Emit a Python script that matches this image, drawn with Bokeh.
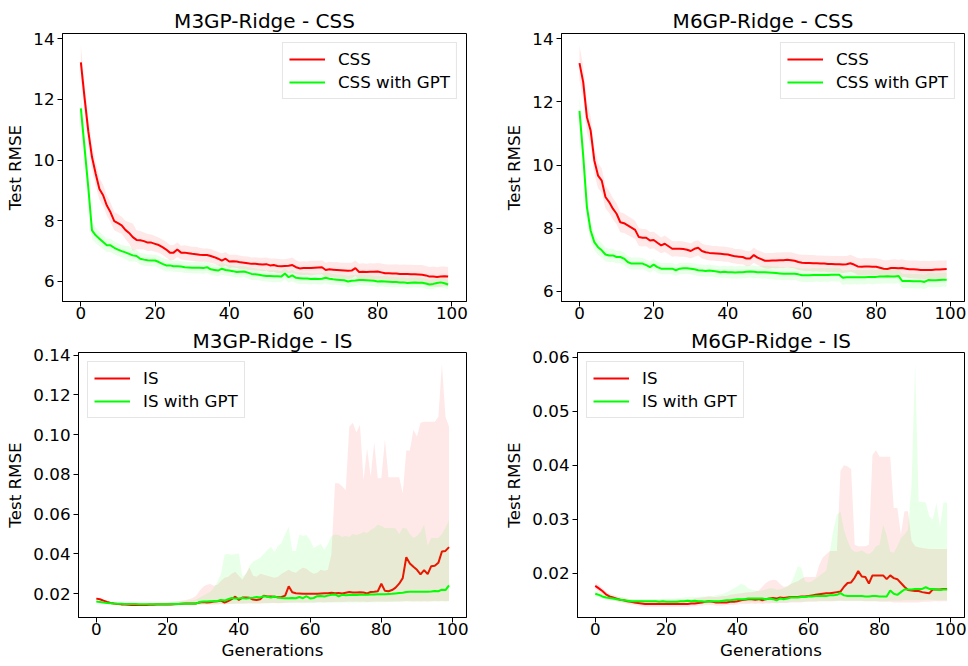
from bokeh.plotting import figure
from bokeh.layouts import column, row
from bokeh.models import Range1d, FixedTicker, PrintfTickFormatter, Legend, LegendItem
from bokeh.embed import file_html
from bokeh.resources import INLINE

generations = list(range(100))
x_ticks = [0, 20, 40, 60, 80, 100]

# ---------------- M3GP-Ridge - CSS ----------------
m3_css_mean = [13.22, 12.05, 10.95, 10.10, 9.55, 9.05, 8.84, 8.50, 8.28, 7.99,
               7.92, 7.85, 7.70, 7.60, 7.46, 7.37, 7.36, 7.33, 7.28, 7.28,
               7.24, 7.20, 7.13, 7.05, 6.95, 6.95, 7.05, 6.95, 6.95, 6.93,
               6.91, 6.90, 6.88, 6.87, 6.87, 6.84, 6.80, 6.75, 6.69, 6.75,
               6.66, 6.67, 6.66, 6.63, 6.62, 6.60, 6.58, 6.58, 6.57, 6.56,
               6.57, 6.53, 6.54, 6.51, 6.50, 6.51, 6.52, 6.54, 6.47, 6.43,
               6.44, 6.44, 6.44, 6.45, 6.46, 6.47, 6.38, 6.40, 6.39, 6.38,
               6.37, 6.36, 6.35, 6.36, 6.44, 6.31, 6.32, 6.31, 6.32, 6.32,
               6.33, 6.30, 6.27, 6.27, 6.26, 6.26, 6.25, 6.25, 6.25, 6.24,
               6.24, 6.23, 6.22, 6.20, 6.16, 6.16, 6.15, 6.16, 6.17, 6.16]
m3_css_std = [0.55, 0.50, 0.45, 0.42, 0.38, 0.36, 0.35, 0.33, 0.32, 0.30,
              0.30, 0.28, 0.30, 0.35, 0.45, 0.32, 0.30, 0.28, 0.28, 0.27,
              0.26, 0.25, 0.25, 0.26, 0.25, 0.24, 0.24, 0.23, 0.24, 0.24,
              0.23, 0.24, 0.23, 0.22, 0.22, 0.23, 0.22, 0.22, 0.23, 0.22,
              0.22, 0.21, 0.22, 0.22, 0.21, 0.22, 0.21, 0.22, 0.21, 0.22,
              0.22, 0.23, 0.22, 0.24, 0.23, 0.22, 0.24, 0.25, 0.23, 0.22,
              0.23, 0.22, 0.24, 0.23, 0.22, 0.23, 0.24, 0.25, 0.24, 0.26,
              0.25, 0.26, 0.27, 0.26, 0.25, 0.27, 0.28, 0.27, 0.28, 0.27,
              0.28, 0.29, 0.30, 0.29, 0.30, 0.31, 0.30, 0.31, 0.30, 0.31,
              0.30, 0.31, 0.32, 0.31, 0.32, 0.33, 0.32, 0.33, 0.32, 0.32]
m3_cssgpt_mean = [11.70, 10.40, 9.10, 7.68, 7.52, 7.41, 7.30, 7.19, 7.19, 7.11,
                  7.05, 7.00, 6.96, 6.91, 6.86, 6.84, 6.75, 6.72, 6.70, 6.69,
                  6.69, 6.64, 6.58, 6.53, 6.53, 6.50, 6.50, 6.49, 6.47, 6.46,
                  6.45, 6.45, 6.45, 6.44, 6.47, 6.40, 6.38, 6.36, 6.42, 6.38,
                  6.36, 6.34, 6.31, 6.32, 6.33, 6.29, 6.25, 6.24, 6.22, 6.20,
                  6.18, 6.18, 6.17, 6.17, 6.16, 6.26, 6.14, 6.20, 6.12, 6.11,
                  6.10, 6.10, 6.08, 6.09, 6.08, 6.09, 6.12, 6.09, 6.07, 6.06,
                  6.05, 6.04, 6.00, 6.02, 6.03, 6.05, 6.05, 6.04, 6.03, 6.02,
                  6.00, 6.01, 6.00, 5.99, 5.98, 5.98, 5.97, 5.97, 5.95, 5.96,
                  5.97, 5.96, 5.96, 5.93, 5.90, 5.92, 5.95, 5.97, 5.94, 5.90]
m3_cssgpt_std = [0.50, 0.45, 0.40, 0.28, 0.25, 0.24, 0.23, 0.22, 0.22, 0.21,
                 0.21, 0.20, 0.22, 0.25, 0.20, 0.20, 0.19, 0.20, 0.19, 0.20,
                 0.19, 0.20, 0.19, 0.20, 0.19, 0.18, 0.19, 0.18, 0.19, 0.18,
                 0.18, 0.19, 0.18, 0.19, 0.18, 0.19, 0.18, 0.19, 0.20, 0.19,
                 0.18, 0.19, 0.18, 0.19, 0.18, 0.19, 0.20, 0.19, 0.18, 0.19,
                 0.18, 0.19, 0.20, 0.19, 0.18, 0.19, 0.18, 0.19, 0.18, 0.19,
                 0.18, 0.19, 0.18, 0.17, 0.18, 0.19, 0.18, 0.19, 0.18, 0.17,
                 0.18, 0.17, 0.18, 0.19, 0.18, 0.17, 0.18, 0.17, 0.18, 0.17,
                 0.18, 0.17, 0.18, 0.17, 0.18, 0.17, 0.16, 0.17, 0.16, 0.17,
                 0.16, 0.17, 0.16, 0.17, 0.16, 0.17, 0.16, 0.17, 0.16, 0.16]

# ---------------- M6GP-Ridge - CSS ----------------
m6_css_mean = [13.23, 12.63, 11.52, 11.10, 10.15, 9.67, 9.51, 8.99, 8.83, 8.62,
               8.46, 8.19, 8.16, 8.09, 8.02, 7.95, 7.72, 7.70, 7.70, 7.61,
               7.63, 7.54, 7.46, 7.51, 7.43, 7.35, 7.35, 7.35, 7.34, 7.32,
               7.28, 7.35, 7.38, 7.28, 7.24, 7.22, 7.21, 7.20, 7.19, 7.18,
               7.17, 7.14, 7.11, 7.10, 7.09, 7.04, 7.04, 7.15, 7.07, 7.02,
               6.97, 6.97, 6.98, 6.98, 6.99, 6.99, 7.00, 6.99, 6.97, 6.93,
               6.91, 6.90, 6.90, 6.89, 6.89, 6.88, 6.88, 6.87, 6.87, 6.86,
               6.86, 6.85, 6.86, 6.89, 6.85, 6.79, 6.78, 6.79, 6.79, 6.78,
               6.78, 6.75, 6.72, 6.71, 6.74, 6.74, 6.73, 6.74, 6.72, 6.70,
               6.70, 6.69, 6.68, 6.68, 6.68, 6.68, 6.69, 6.69, 6.70, 6.71]
m6_css_std = [0.55, 0.50, 0.48, 0.45, 0.42, 0.40, 0.38, 0.36, 0.35, 0.34,
              0.33, 0.32, 0.31, 0.30, 0.30, 0.29, 0.28, 0.28, 0.27, 0.27,
              0.26, 0.26, 0.25, 0.26, 0.25, 0.25, 0.24, 0.25, 0.24, 0.24,
              0.24, 0.25, 0.24, 0.24, 0.23, 0.24, 0.23, 0.24, 0.23, 0.24,
              0.23, 0.24, 0.23, 0.24, 0.23, 0.24, 0.23, 0.24, 0.23, 0.24,
              0.24, 0.25, 0.24, 0.25, 0.24, 0.25, 0.24, 0.25, 0.24, 0.25,
              0.25, 0.26, 0.25, 0.26, 0.25, 0.26, 0.25, 0.26, 0.25, 0.26,
              0.26, 0.27, 0.26, 0.27, 0.26, 0.27, 0.26, 0.27, 0.26, 0.27,
              0.27, 0.28, 0.27, 0.28, 0.27, 0.28, 0.27, 0.28, 0.27, 0.28,
              0.28, 0.29, 0.28, 0.29, 0.28, 0.29, 0.28, 0.29, 0.28, 0.28]
m6_cssgpt_mean = [11.72, 10.30, 8.67, 7.93, 7.56, 7.40, 7.30, 7.17, 7.14, 7.14,
                  7.09, 7.09, 7.04, 6.93, 6.88, 6.88, 6.88, 6.88, 6.83, 6.77,
                  6.85, 6.77, 6.72, 6.72, 6.72, 6.72, 6.67, 6.72, 6.73, 6.73,
                  6.72, 6.70, 6.67, 6.66, 6.65, 6.66, 6.65, 6.63, 6.61, 6.62,
                  6.61, 6.61, 6.60, 6.61, 6.61, 6.62, 6.63, 6.62, 6.61, 6.61,
                  6.61, 6.60, 6.59, 6.58, 6.57, 6.56, 6.56, 6.56, 6.56, 6.54,
                  6.51, 6.51, 6.51, 6.52, 6.52, 6.52, 6.52, 6.52, 6.53, 6.53,
                  6.53, 6.43, 6.45, 6.45, 6.45, 6.45, 6.45, 6.45, 6.46, 6.46,
                  6.46, 6.47, 6.47, 6.48, 6.47, 6.47, 6.49, 6.33, 6.33, 6.33,
                  6.32, 6.32, 6.32, 6.30, 6.36, 6.35, 6.35, 6.36, 6.37, 6.37]
m6_cssgpt_std = [0.50, 0.45, 0.40, 0.30, 0.26, 0.24, 0.23, 0.22, 0.21, 0.21,
                 0.20, 0.20, 0.20, 0.19, 0.19, 0.19, 0.19, 0.18, 0.18, 0.18,
                 0.18, 0.18, 0.18, 0.18, 0.18, 0.18, 0.18, 0.18, 0.18, 0.18,
                 0.18, 0.19, 0.18, 0.19, 0.18, 0.19, 0.18, 0.19, 0.18, 0.19,
                 0.19, 0.20, 0.19, 0.20, 0.19, 0.20, 0.19, 0.20, 0.19, 0.20,
                 0.20, 0.21, 0.20, 0.21, 0.20, 0.21, 0.20, 0.21, 0.20, 0.21,
                 0.21, 0.22, 0.21, 0.22, 0.21, 0.22, 0.21, 0.22, 0.21, 0.22,
                 0.22, 0.23, 0.22, 0.23, 0.22, 0.23, 0.22, 0.23, 0.22, 0.23,
                 0.22, 0.23, 0.22, 0.23, 0.22, 0.23, 0.22, 0.23, 0.22, 0.23,
                 0.22, 0.23, 0.22, 0.23, 0.22, 0.23, 0.22, 0.23, 0.22, 0.22]

# ---------------- M3GP-Ridge - IS ----------------
m3_is_mean = [0.0175, 0.0172, 0.0165, 0.0158, 0.0153, 0.0150, 0.0148, 0.0146, 0.0145, 0.0144,
              0.0143, 0.0143, 0.0143, 0.0143, 0.0143, 0.0144, 0.0144, 0.0145, 0.0145, 0.0145,
              0.0145, 0.0146, 0.0147, 0.0148, 0.0149, 0.0150, 0.0150, 0.0150, 0.0151, 0.0155,
              0.0158, 0.0156, 0.0157, 0.0160, 0.0162, 0.0165, 0.0155, 0.0163, 0.0172, 0.0185,
              0.0168, 0.0180, 0.0180, 0.0179, 0.0170, 0.0168, 0.0172, 0.0190, 0.0186, 0.0186,
              0.0184, 0.0182, 0.0183, 0.0190, 0.0237, 0.0207, 0.0202, 0.0201, 0.0200, 0.0200,
              0.0200, 0.0200, 0.0200, 0.0201, 0.0202, 0.0202, 0.0205, 0.0202, 0.0203, 0.0201,
              0.0205, 0.0208, 0.0206, 0.0206, 0.0207, 0.0206, 0.0201, 0.0208, 0.0209, 0.0212,
              0.0250, 0.0214, 0.0212, 0.0218, 0.0230, 0.0250, 0.0278, 0.0383, 0.0352, 0.0335,
              0.0320, 0.0297, 0.0318, 0.0298, 0.0338, 0.0340, 0.0355, 0.0412, 0.0415, 0.0434]
m3_is_low = [0.0168, 0.0166, 0.0159, 0.0152, 0.0148, 0.0145, 0.0143, 0.0141, 0.0140, 0.0139,
             0.0138, 0.0138, 0.0138, 0.0138, 0.0138, 0.0139, 0.0139, 0.0140, 0.0140, 0.0140,
             0.0140, 0.0141, 0.0141, 0.0142, 0.0142, 0.0143, 0.0143, 0.0143, 0.0143, 0.0144,
             0.0145, 0.0145, 0.0146, 0.0146, 0.0147, 0.0148, 0.0147, 0.0148, 0.0149, 0.0150,
             0.0150, 0.0151, 0.0151, 0.0152, 0.0151, 0.0150, 0.0151, 0.0152, 0.0152, 0.0153,
             0.0153, 0.0152, 0.0153, 0.0154, 0.0155, 0.0156, 0.0157, 0.0156, 0.0155, 0.0156,
             0.0157, 0.0156, 0.0157, 0.0158, 0.0157, 0.0158, 0.0157, 0.0158, 0.0159, 0.0158,
             0.0159, 0.0160, 0.0159, 0.0160, 0.0159, 0.0160, 0.0158, 0.0159, 0.0160, 0.0161,
             0.0160, 0.0161, 0.0160, 0.0161, 0.0162, 0.0161, 0.0162, 0.0163, 0.0162, 0.0161,
             0.0162, 0.0161, 0.0162, 0.0161, 0.0162, 0.0163, 0.0162, 0.0163, 0.0162, 0.0163]
m3_is_high = [0.0182, 0.0178, 0.0171, 0.0164, 0.0159, 0.0156, 0.0154, 0.0152, 0.0151, 0.0150,
              0.0150, 0.0150, 0.0150, 0.0151, 0.0151, 0.0152, 0.0153, 0.0154, 0.0155, 0.0156,
              0.0157, 0.0158, 0.0160, 0.0162, 0.0165, 0.0168, 0.0172, 0.0178, 0.0190, 0.0215,
              0.0235, 0.0245, 0.0248, 0.0240, 0.0245, 0.0265, 0.0280, 0.0285, 0.0300, 0.0310,
              0.0290, 0.0270, 0.0300, 0.0330, 0.0290, 0.0285, 0.0300, 0.0295, 0.0290, 0.0285,
              0.0280, 0.0285, 0.0300, 0.0310, 0.0320, 0.0310, 0.0305, 0.0320, 0.0330, 0.0325,
              0.0310, 0.0300, 0.0305, 0.0320, 0.0315, 0.0320, 0.0400, 0.0755, 0.0755, 0.0740,
              0.0720, 0.1040, 0.1060, 0.1010, 0.1050, 0.0770, 0.0930, 0.0790, 0.0960, 0.0780,
              0.0780, 0.0975, 0.0785, 0.0785, 0.0785, 0.0785, 0.0705, 0.0920, 0.0920, 0.1025,
              0.0990, 0.1060, 0.1065, 0.1065, 0.1065, 0.1065, 0.1090, 0.1355, 0.1090, 0.1040]
m3_isgpt_mean = [0.0160, 0.0158, 0.0155, 0.0153, 0.0152, 0.0150, 0.0149, 0.0149, 0.0148, 0.0148,
                 0.0148, 0.0148, 0.0147, 0.0147, 0.0147, 0.0147, 0.0147, 0.0147, 0.0147, 0.0147,
                 0.0147, 0.0148, 0.0148, 0.0148, 0.0149, 0.0149, 0.0149, 0.0149, 0.0150, 0.0158,
                 0.0160, 0.0161, 0.0162, 0.0162, 0.0163, 0.0168, 0.0165, 0.0172, 0.0178, 0.0175,
                 0.0176, 0.0178, 0.0175, 0.0178, 0.0180, 0.0183, 0.0181, 0.0187, 0.0184, 0.0181,
                 0.0186, 0.0180, 0.0178, 0.0177, 0.0177, 0.0178, 0.0177, 0.0183, 0.0177, 0.0187,
                 0.0176, 0.0178, 0.0187, 0.0188, 0.0186, 0.0190, 0.0194, 0.0196, 0.0186, 0.0194,
                 0.0192, 0.0193, 0.0194, 0.0193, 0.0194, 0.0195, 0.0195, 0.0196, 0.0196, 0.0197,
                 0.0197, 0.0197, 0.0198, 0.0199, 0.0201, 0.0203, 0.0205, 0.0208, 0.0209, 0.0210,
                 0.0209, 0.0209, 0.0209, 0.0210, 0.0211, 0.0213, 0.0212, 0.0220, 0.0218, 0.0242]
m3_isgpt_low = [0.0154, 0.0153, 0.0151, 0.0149, 0.0148, 0.0146, 0.0145, 0.0145, 0.0144, 0.0144,
                0.0144, 0.0144, 0.0143, 0.0143, 0.0143, 0.0143, 0.0143, 0.0143, 0.0143, 0.0143,
                0.0143, 0.0143, 0.0143, 0.0143, 0.0144, 0.0144, 0.0144, 0.0144, 0.0144, 0.0145,
                0.0145, 0.0145, 0.0146, 0.0146, 0.0146, 0.0147, 0.0147, 0.0148, 0.0148, 0.0148,
                0.0149, 0.0149, 0.0150, 0.0150, 0.0151, 0.0151, 0.0151, 0.0152, 0.0152, 0.0152,
                0.0153, 0.0152, 0.0152, 0.0153, 0.0153, 0.0153, 0.0152, 0.0153, 0.0152, 0.0153,
                0.0152, 0.0153, 0.0154, 0.0154, 0.0153, 0.0154, 0.0155, 0.0155, 0.0154, 0.0155,
                0.0155, 0.0155, 0.0156, 0.0155, 0.0156, 0.0156, 0.0156, 0.0157, 0.0156, 0.0157,
                0.0157, 0.0157, 0.0158, 0.0158, 0.0158, 0.0159, 0.0159, 0.0160, 0.0160, 0.0160,
                0.0160, 0.0160, 0.0161, 0.0161, 0.0160, 0.0161, 0.0161, 0.0162, 0.0161, 0.0162]
m3_isgpt_high = [0.0165, 0.0163, 0.0160, 0.0158, 0.0157, 0.0155, 0.0154, 0.0154, 0.0153, 0.0153,
                 0.0153, 0.0153, 0.0152, 0.0152, 0.0152, 0.0153, 0.0153, 0.0153, 0.0153, 0.0154,
                 0.0154, 0.0156, 0.0158, 0.0160, 0.0162, 0.0163, 0.0165, 0.0167, 0.0170, 0.0180,
                 0.0190, 0.0200, 0.0210, 0.0230, 0.0260, 0.0300, 0.0397, 0.0400, 0.0395, 0.0400,
                 0.0402, 0.0285, 0.0300, 0.0340, 0.0360, 0.0370, 0.0380, 0.0400, 0.0420, 0.0435,
                 0.0410, 0.0440, 0.0455, 0.0500, 0.0535, 0.0415, 0.0415, 0.0497, 0.0490, 0.0495,
                 0.0470, 0.0430, 0.0440, 0.0450, 0.0420, 0.0450, 0.0490, 0.0497, 0.0495, 0.0485,
                 0.0490, 0.0485, 0.0500, 0.0495, 0.0500, 0.0510, 0.0505, 0.0520, 0.0530, 0.0547,
                 0.0540, 0.0530, 0.0530, 0.0530, 0.0528, 0.0500, 0.0530, 0.0528, 0.0500, 0.0480,
                 0.0490, 0.0510, 0.0546, 0.0440, 0.0480, 0.0480, 0.0480, 0.0500, 0.0530, 0.0570]

# ---------------- M6GP-Ridge - IS ----------------
m6_is_mean = [0.01766, 0.0172, 0.0167, 0.0161, 0.0157, 0.0155, 0.0153, 0.0151, 0.0150, 0.0148,
              0.0147, 0.0146, 0.0145, 0.0144, 0.0143, 0.0143, 0.0143, 0.0143, 0.0143, 0.0143,
              0.0143, 0.0143, 0.0143, 0.0143, 0.0143, 0.0143, 0.0143, 0.0144, 0.0144, 0.0145,
              0.0146, 0.0147, 0.0148, 0.0147, 0.0146, 0.0146, 0.0146, 0.0146, 0.0147, 0.0147,
              0.0148, 0.0150, 0.0151, 0.0152, 0.0152, 0.0151, 0.0152, 0.0150, 0.0152, 0.0153,
              0.0154, 0.0153, 0.0155, 0.0154, 0.0155, 0.0156, 0.0156, 0.0156, 0.0157, 0.0157,
              0.0158, 0.0159, 0.0160, 0.0161, 0.0162, 0.0163, 0.0163, 0.0164, 0.0165, 0.0166,
              0.0175, 0.0182, 0.0183, 0.0192, 0.0204, 0.0194, 0.0193, 0.0181, 0.0196, 0.0196,
              0.0196, 0.0196, 0.0189, 0.0196, 0.0191, 0.0189, 0.0182, 0.0175, 0.0169, 0.0168,
              0.0167, 0.0167, 0.0165, 0.0164, 0.0163, 0.0170, 0.0170, 0.0170, 0.0171, 0.0171]
m6_is_low = [0.0171, 0.0166, 0.0161, 0.0156, 0.0152, 0.0150, 0.0148, 0.0146, 0.0145, 0.0143,
             0.0142, 0.0141, 0.0140, 0.0139, 0.0138, 0.0138, 0.0138, 0.0138, 0.0138, 0.0138,
             0.0138, 0.0138, 0.0138, 0.0138, 0.0138, 0.0138, 0.0138, 0.0139, 0.0139, 0.0140,
             0.0140, 0.0141, 0.0141, 0.0141, 0.0140, 0.0140, 0.0140, 0.0141, 0.0141, 0.0141,
             0.0142, 0.0143, 0.0143, 0.0143, 0.0144, 0.0143, 0.0144, 0.0143, 0.0144, 0.0144,
             0.0145, 0.0144, 0.0145, 0.0145, 0.0145, 0.0146, 0.0146, 0.0146, 0.0146, 0.0147,
             0.0147, 0.0147, 0.0147, 0.0148, 0.0148, 0.0148, 0.0148, 0.0148, 0.0149, 0.0149,
             0.0149, 0.0149, 0.0149, 0.0149, 0.0149, 0.0149, 0.0148, 0.0148, 0.0148, 0.0148,
             0.0147, 0.0147, 0.0147, 0.0147, 0.0146, 0.0146, 0.0146, 0.0146, 0.0146, 0.0146,
             0.0146, 0.0146, 0.0147, 0.0147, 0.0147, 0.0148, 0.0148, 0.0148, 0.0148, 0.0148]
m6_is_high = [0.0182, 0.0178, 0.0172, 0.0166, 0.0162, 0.0160, 0.0158, 0.0156, 0.0155, 0.0153,
              0.0152, 0.0151, 0.0150, 0.0150, 0.0149, 0.0149, 0.0149, 0.0150, 0.0150, 0.0150,
              0.0150, 0.0150, 0.0150, 0.0151, 0.0151, 0.0151, 0.0152, 0.0152, 0.0153, 0.0154,
              0.0155, 0.0156, 0.0157, 0.0156, 0.0156, 0.0157, 0.0158, 0.0158, 0.0160, 0.0161,
              0.0162, 0.0163, 0.0164, 0.0165, 0.0165, 0.0166, 0.0168, 0.0175, 0.0182, 0.0186,
              0.0188, 0.0187, 0.0180, 0.0175, 0.0176, 0.0180, 0.0183, 0.0185, 0.0190, 0.0193,
              0.0193, 0.0193, 0.0193, 0.0215, 0.0229, 0.0235, 0.0241, 0.0241, 0.0241, 0.0390,
              0.0400, 0.0398, 0.0393, 0.0253, 0.0250, 0.0250, 0.0250, 0.0253, 0.0419, 0.0428,
              0.0416, 0.0416, 0.0416, 0.0416, 0.0321, 0.0321, 0.0272, 0.0315, 0.0315, 0.0260,
              0.0250, 0.0248, 0.0247, 0.0246, 0.0245, 0.0245, 0.0245, 0.0245, 0.0245, 0.0245]
m6_isgpt_mean = [0.0162, 0.0160, 0.0157, 0.0155, 0.0154, 0.0153, 0.0152, 0.0151, 0.0150, 0.0149,
                 0.0148, 0.0148, 0.0148, 0.0148, 0.0148, 0.0148, 0.0148, 0.0148, 0.0147, 0.0148,
                 0.0147, 0.0147, 0.0147, 0.0147, 0.0148, 0.0148, 0.0149, 0.0148, 0.0149, 0.0148,
                 0.0148, 0.0147, 0.0148, 0.0148, 0.0148, 0.0148, 0.0149, 0.0150, 0.0150, 0.0151,
                 0.0152, 0.0152, 0.0152, 0.0153, 0.0153, 0.0153, 0.0153, 0.0153, 0.0152, 0.0153,
                 0.0152, 0.0150, 0.0153, 0.0152, 0.0153, 0.0155, 0.0155, 0.0155, 0.0156, 0.0156,
                 0.0157, 0.0157, 0.0158, 0.0158, 0.0158, 0.0158, 0.0159, 0.0159, 0.0160, 0.0163,
                 0.0159, 0.0158, 0.0158, 0.0158, 0.0158, 0.0158, 0.0157, 0.0157, 0.0158, 0.0158,
                 0.0157, 0.0157, 0.0157, 0.0168, 0.0162, 0.0160, 0.0165, 0.0170, 0.0170, 0.0170,
                 0.0171, 0.0171, 0.0171, 0.0174, 0.0171, 0.0171, 0.0170, 0.0169, 0.0170, 0.0170]
m6_isgpt_low = [0.0157, 0.0156, 0.0153, 0.0151, 0.0150, 0.0149, 0.0148, 0.0147, 0.0146, 0.0145,
                0.0144, 0.0144, 0.0144, 0.0144, 0.0144, 0.0144, 0.0144, 0.0144, 0.0143, 0.0144,
                0.0143, 0.0143, 0.0143, 0.0143, 0.0144, 0.0144, 0.0144, 0.0144, 0.0144, 0.0144,
                0.0144, 0.0143, 0.0144, 0.0144, 0.0144, 0.0144, 0.0144, 0.0145, 0.0145, 0.0145,
                0.0146, 0.0146, 0.0146, 0.0146, 0.0146, 0.0146, 0.0146, 0.0146, 0.0146, 0.0146,
                0.0146, 0.0145, 0.0146, 0.0146, 0.0146, 0.0147, 0.0147, 0.0147, 0.0147, 0.0147,
                0.0148, 0.0148, 0.0148, 0.0148, 0.0148, 0.0148, 0.0148, 0.0148, 0.0148, 0.0149,
                0.0148, 0.0148, 0.0148, 0.0148, 0.0148, 0.0148, 0.0148, 0.0148, 0.0148, 0.0148,
                0.0148, 0.0148, 0.0148, 0.0149, 0.0149, 0.0149, 0.0149, 0.0150, 0.0150, 0.0150,
                0.0150, 0.0150, 0.0150, 0.0151, 0.0151, 0.0151, 0.0150, 0.0150, 0.0150, 0.0150]
m6_isgpt_high = [0.0168, 0.0165, 0.0162, 0.0160, 0.0158, 0.0157, 0.0156, 0.0155, 0.0154, 0.0153,
                 0.0152, 0.0152, 0.0152, 0.0152, 0.0152, 0.0152, 0.0152, 0.0152, 0.0152, 0.0153,
                 0.0153, 0.0153, 0.0153, 0.0154, 0.0154, 0.0155, 0.0156, 0.0156, 0.0156, 0.0156,
                 0.0157, 0.0157, 0.0158, 0.0158, 0.0159, 0.0160, 0.0162, 0.0165, 0.0168, 0.0172,
                 0.0176, 0.0180, 0.0178, 0.0172, 0.0170, 0.0168, 0.0167, 0.0168, 0.0170, 0.0172,
                 0.0172, 0.0170, 0.0170, 0.0172, 0.0175, 0.0180, 0.0195, 0.0213, 0.0210, 0.0185,
                 0.0183, 0.0185, 0.0190, 0.0195, 0.0200, 0.0205, 0.0240, 0.0280, 0.0309, 0.0314,
                 0.0280, 0.0260, 0.0245, 0.0240, 0.0240, 0.0242, 0.0238, 0.0235, 0.0240, 0.0250,
                 0.0253, 0.0290, 0.0270, 0.0240, 0.0238, 0.0250, 0.0265, 0.0272, 0.0280, 0.0364,
                 0.0588, 0.0333, 0.0332, 0.0331, 0.0305, 0.0300, 0.0330, 0.0285, 0.0331, 0.0331]

FONT = "DejaVu Sans"
RED = "#ff0000"
GREEN = "#00ff00"


def make_panel(title, width, height, borders, x_range, y_range, y_ticks, y_fmt,
               series, legend_loc, x_label, title_standoff):
    left, right, top, bottom = borders
    p = figure(width=width, height=height, output_backend="svg", toolbar_location=None,
               x_range=Range1d(*x_range), y_range=Range1d(*y_range),
               min_border_left=left, min_border_right=right,
               min_border_top=top, min_border_bottom=bottom)
    p.title.text = title
    p.title.text_font = FONT
    p.title.text_font_size = "20px"
    p.title.text_font_style = "normal"
    p.title.text_color = "black"
    p.title.align = "center"
    p.title.standoff = title_standoff
    p.grid.visible = False
    p.outline_line_color = "black"
    p.outline_line_alpha = 1.0
    p.outline_line_width = 1
    p.background_fill_color = "white"
    p.border_fill_color = "white"

    for ax in (p.xaxis[0], p.yaxis[0]):
        ax.major_label_text_font = FONT
        ax.major_label_text_font_size = "16.7px"
        ax.major_label_text_color = "black"
        ax.major_tick_out = 5
        ax.major_tick_in = 0
        ax.minor_tick_out = 0
        ax.minor_tick_in = 0
        ax.axis_line_color = "black"
        ax.major_tick_line_color = "black"
        ax.axis_label_text_font = FONT
        ax.axis_label_text_font_size = "16.7px"
        ax.axis_label_text_font_style = "normal"
        ax.axis_label_text_color = "black"
    p.xaxis.major_label_standoff = 0
    p.xaxis.axis_label_standoff = 2
    p.yaxis.major_label_standoff = 3
    p.yaxis.axis_label_standoff = 5
    p.xaxis.ticker = FixedTicker(ticks=x_ticks)
    p.yaxis.ticker = FixedTicker(ticks=y_ticks)
    p.yaxis.formatter = PrintfTickFormatter(format=y_fmt)
    p.yaxis.axis_label = "Test RMSE"
    if x_label:
        p.xaxis.axis_label = x_label

    items = []
    for label, color, mean, low, high in series:
        p.varea(x=generations, y1=low, y2=high, fill_color=color, fill_alpha=0.09)
        r = p.line(generations, mean, line_color=color, line_width=2)
        items.append(LegendItem(label=label, renderers=[r]))

    leg = Legend(items=items, location=legend_loc)
    leg.label_text_font = FONT
    leg.label_text_font_size = "16.7px"
    leg.label_text_color = "black"
    leg.glyph_width = 36
    leg.glyph_height = 20
    leg.label_height = 20
    leg.label_standoff = 13
    leg.spacing = 3
    leg.padding = 6
    leg.margin = 9
    leg.border_line_color = "#cccccc"
    leg.border_line_width = 1
    leg.background_fill_color = "white"
    leg.background_fill_alpha = 0.8
    p.add_layout(leg)
    return p


def band(mean, spread, sign):
    return [m + sign * s for m, s in zip(mean, spread)]


p1 = make_panel("M3GP-Ridge - CSS", 480, 326, (62, 14, 33, 25), (-4.95, 103.95), (5.34, 14.17),
                [6, 8, 10, 12, 14], "%d",
                [("CSS", RED, m3_css_mean, band(m3_css_mean, m3_css_std, -1), band(m3_css_mean, m3_css_std, 1)),
                 ("CSS with GPT", GREEN, m3_cssgpt_mean, band(m3_cssgpt_mean, m3_cssgpt_std, -1),
                  band(m3_cssgpt_mean, m3_cssgpt_std, 1))],
                "top_right", None, 2)
p2 = make_panel("M6GP-Ridge - CSS", 488, 326, (81, 4, 33, 25), (-4.85, 103.8), (5.68, 14.17),
                [6, 8, 10, 12, 14], "%d",
                [("CSS", RED, m6_css_mean, band(m6_css_mean, m6_css_std, -1), band(m6_css_mean, m6_css_std, 1)),
                 ("CSS with GPT", GREEN, m6_cssgpt_mean, band(m6_cssgpt_mean, m6_cssgpt_std, -1),
                  band(m6_cssgpt_mean, m6_cssgpt_std, 1))],
                "top_right", None, 2)
p3 = make_panel("M3GP-Ridge - IS", 480, 340, (78, 14, 24, 49), (-5.0, 103.9), (0.008, 0.1413),
                [0.02, 0.04, 0.06, 0.08, 0.10, 0.12, 0.14], "%.2f",
                [("IS", RED, m3_is_mean, m3_is_low, m3_is_high),
                 ("IS with GPT", GREEN, m3_isgpt_mean, m3_isgpt_low, m3_isgpt_high)],
                "top_left", "Generations", 0)
p4 = make_panel("M6GP-Ridge - IS", 488, 340, (97, 4, 24, 49), (-5.0, 103.9), (0.0118, 0.0609),
                [0.02, 0.03, 0.04, 0.05, 0.06], "%.2f",
                [("IS", RED, m6_is_mean, m6_is_low, m6_is_high),
                 ("IS with GPT", GREEN, m6_isgpt_mean, m6_isgpt_low, m6_isgpt_high)],
                "top_left", "Generations", 0)

layout = column(row(p1, p2), row(p3, p4))
open("out.html", "w").write(file_html(layout, INLINE))
